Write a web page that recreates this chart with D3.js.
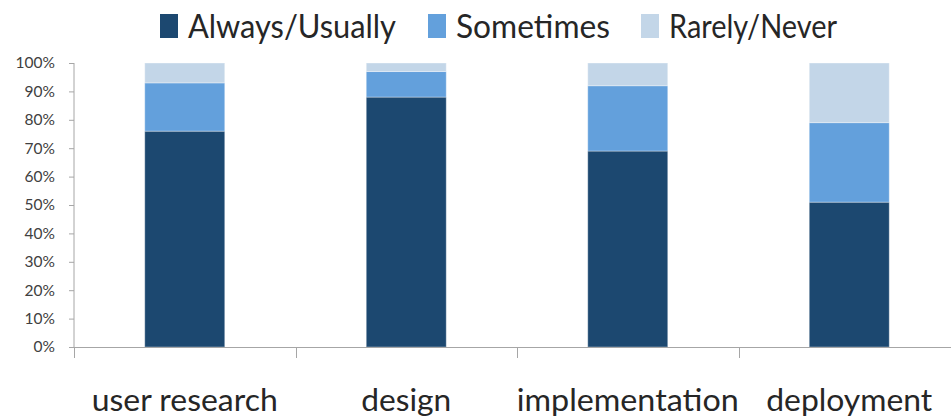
<!DOCTYPE html>
<html>
<head>
<meta charset="utf-8">
<script src="https://cdn.jsdelivr.net/npm/d3@7"></script>
<style>
  body { margin: 0; background: #fff; }
  svg { display: block; font-family: Lato, "Open Sans", sans-serif; }
</style>
</head>
<body>
<svg id="svg" width="951" height="420"></svg>
<script>
const categories = ["user research", "design", "implementation", "deployment"];
const seriesNames = ["Always/Usually", "Sometimes", "Rarely/Never"];
const always = [76, 88, 69, 51];
const sometimes = [17, 9, 23, 28];
const rarely = [7, 3, 8, 21];
const yTicks = [0, 10, 20, 30, 40, 50, 60, 70, 80, 90, 100];
const colors = ["#1c4870", "#63a0dc", "#c3d6e8"];

const rows = categories.map((c, i) => ({
    cat: c, "Always/Usually": always[i], "Sometimes": sometimes[i], "Rarely/Never": rarely[i]
}));

const svg = d3.select("#svg");
const plotLeft = 74, plotRight = 960, plotTop = 63, plotBottom = 347;

const x = d3.scaleBand().domain(categories).range([plotLeft, plotRight]).paddingInner(0).paddingOuter(0);
const y = d3.scaleLinear().domain([0, 100]).range([plotBottom, plotTop]);

const stack = d3.stack().keys(seriesNames)(rows);
const barW = 80;

svg.append("g").selectAll("g")
    .data(stack)
    .join("g")
    .attr("fill", (d, i) => colors[i])
    .selectAll("rect")
    .data(d => d)
    .join("rect")
    .attr("x", d => x(d.data.cat) + x.bandwidth() / 2 - barW / 2)
    .attr("y", d => y(d[1]))
    .attr("width", barW)
    .attr("height", d => y(d[0]) - y(d[1]))
    .style("stroke", "rgba(255,255,255,0.35)")
    .style("stroke-width", 1);

// y axis
const yAxis = svg.append("g")
    .attr("transform", `translate(${plotLeft},0)`)
    .call(d3.axisLeft(y).tickValues(yTicks).tickFormat(d => d + "%").tickSize(5).tickPadding(14));
yAxis.select(".domain").attr("stroke", "#a6a6a6").attr("d", `M0,${plotTop}V${plotBottom}`);
yAxis.selectAll(".tick line").attr("stroke", "#a6a6a6");
yAxis.selectAll(".tick text")
    .attr("fill", "#404040")
    .style("font-size", "15.5px")
    .style("font-family", "Lato, sans-serif");

// x axis
const bounds = categories.map(c => x(c)).concat([plotRight]);
const xg = svg.append("g");
xg.append("line")
    .attr("x1", plotLeft).attr("x2", plotRight)
    .attr("y1", plotBottom + 0.5).attr("y2", plotBottom + 0.5)
    .attr("stroke", "#a6a6a6");
xg.selectAll("line.tick")
    .data(bounds)
    .join("line")
    .attr("class", "tick")
    .attr("x1", d => Math.round(d) + 0.5).attr("x2", d => Math.round(d) + 0.5)
    .attr("y1", plotBottom).attr("y2", plotBottom + 11)
    .attr("stroke", "#a6a6a6");

const labelW = { "user research": 186, "design": 90, "implementation": 222, "deployment": 166 };
xg.selectAll("text")
    .data(categories)
    .join("text")
    .attr("x", d => x(d) + x.bandwidth() / 2)
    .attr("y", 411)
    .attr("text-anchor", "middle")
    .attr("fill", "#262626")
    .style("font-size", "30px")
    .attr("textLength", d => labelW[d])
    .attr("lengthAdjust", "spacingAndGlyphs")
    .text(d => d);

// legend
const legendX = [160, 428, 641];
const legendW = [208, 154, 168];
const lg = svg.append("g").selectAll("g")
    .data(seriesNames)
    .join("g")
    .attr("transform", (d, i) => `translate(${legendX[i]},0)`);
lg.append("rect")
    .attr("x", 0).attr("y", 14)
    .attr("width", 18).attr("height", 24)
    .attr("fill", (d, i) => colors[i]);
lg.append("text")
    .attr("x", 28).attr("y", 38)
    .attr("fill", "#262626")
    .style("font-size", "32px")
    .attr("textLength", (d, i) => legendW[i])
    .attr("lengthAdjust", "spacingAndGlyphs")
    .text(d => d);
</script>
</body>
</html>
